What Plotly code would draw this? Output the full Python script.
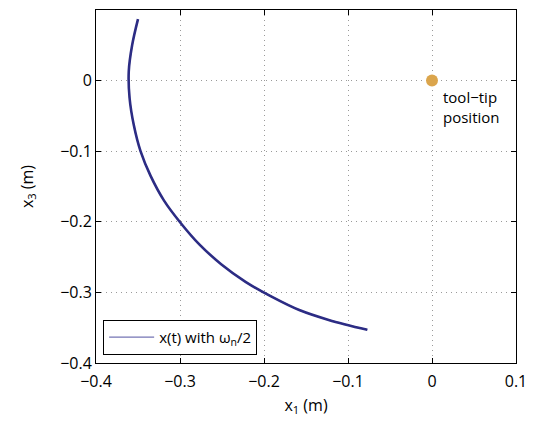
import plotly.graph_objects as go

# trajectory x(t) with omega_n/2
x1 = [-0.350, -0.357, -0.361, -0.360, -0.355, -0.347, -0.335, -0.319, -0.299,
      -0.277, -0.251, -0.222, -0.191, -0.158, -0.123, -0.077]
x3 = [0.087, 0.050, 0.013, -0.025, -0.063, -0.100, -0.135, -0.170, -0.202,
      -0.232, -0.260, -0.285, -0.306, -0.325, -0.339, -0.353]

tip_x = [0.0]
tip_y = [0.0]

ticks = [-0.4, -0.3, -0.2, -0.1, 0, 0.1]
tick_text = ["−0.4", "−0.3", "−0.2", "−0.1", "0", "0.1"]

fig = go.Figure()
fig.add_trace(go.Scatter(x=x1, y=x3, mode="lines", name="x(t) with ω<sub>n</sub>/2",
                         line=dict(color="#7474b4", width=1.3, shape="spline")))
fig.add_trace(go.Scatter(x=x1, y=x3, mode="lines", showlegend=False,
                         line=dict(color="#2c2c84", width=2.6, shape="spline")))
fig.add_trace(go.Scatter(x=tip_x, y=tip_y, mode="markers", showlegend=False,
                         marker=dict(color="#dba54c", size=12)))

fig.add_annotation(x=0, y=0, text="tool−tip<br>position", showarrow=False,
                   xanchor="left", yanchor="top", xshift=9, yshift=-4, align="left",
                   font=dict(size=15, color="black"))

axis = dict(showline=True, linecolor="black", linewidth=1, mirror="allticks",
            ticks="inside", ticklen=5, tickcolor="black", zeroline=False,
            showgrid=True, gridcolor="#9a9a9a", griddash="1px,4px", gridwidth=1,
            tickfont=dict(size=16, color="black"))

fig.update_xaxes(range=[-0.4, 0.1], tickvals=ticks, ticktext=tick_text, ticklabelstandoff=4,
                 title=dict(text="x<sub>1</sub> (m)", font=dict(size=16, color="black"), standoff=8), **axis)
fig.update_yaxes(range=[-0.4, 0.1], tickvals=ticks, ticktext=tick_text,
                 title=dict(text="x<sub>3</sub> (m)", font=dict(size=16, color="black"), standoff=22), **axis)

# page body adds an 8px margin, so the figure is 8px smaller and shifted
fig.update_layout(
    width=530, height=420,
    margin=dict(l=88, r=22, t=2, b=65),
    paper_bgcolor="white", plot_bgcolor="white",
    font=dict(family="Open Sans", color="black"),
    legend=dict(x=0.017, y=0.023, xanchor="left", yanchor="bottom",
                bordercolor="black", borderwidth=1, bgcolor="white", itemwidth=45,
                font=dict(size=15, color="black")),
)

fig.write_html("out.html")
